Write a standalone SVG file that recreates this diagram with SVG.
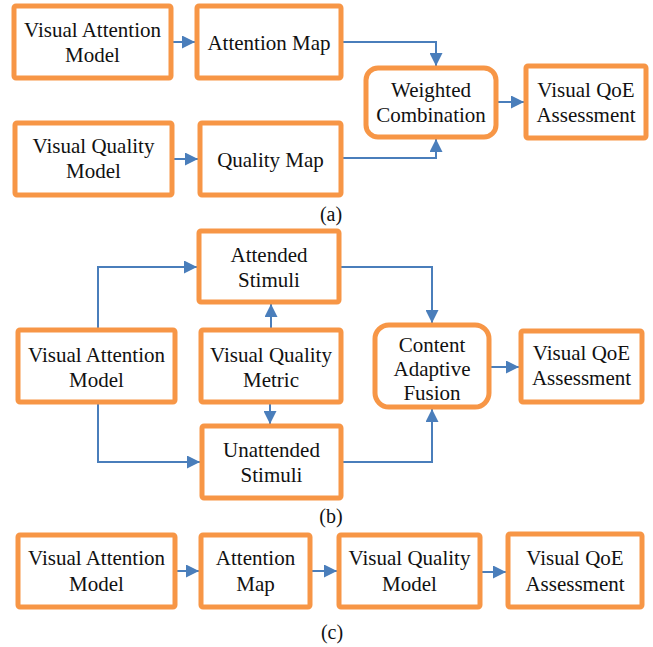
<svg xmlns="http://www.w3.org/2000/svg" width="653" height="647" viewBox="0 0 653 647">
<defs>
<marker id="ah" markerUnits="userSpaceOnUse" markerWidth="13" markerHeight="13" viewBox="0 0 13 13" refX="13" refY="6.5" orient="auto">
<path d="M0,0 L13,6.5 L0,13 Z" fill="#4A7EBB"/>
</marker>
<style>
.box{fill:#fff;stroke:#F79646;stroke-width:5}
.t{font-family:"Liberation Serif","DejaVu Serif",serif;font-size:21px;fill:#111;text-anchor:middle}
.lbl{font-family:"Liberation Serif","DejaVu Serif",serif;font-size:20px;fill:#111;text-anchor:middle}
.c{fill:none;stroke:#4A7EBB;stroke-width:2;marker-end:url(#ah)}
</style>
</defs>
<rect width="653" height="647" fill="#fff"/>
<g id="connectors">
<path class="c" d="M173,42 H195"/>
<path class="c" d="M343,42 H436 V66"/>
<path class="c" d="M174,159 H198"/>
<path class="c" d="M343,158 H436 V139"/>
<path class="c" d="M498,102 H524"/>
<path class="c" d="M98,328 V267 H197"/>
<path class="c" d="M98,404 V462 H200"/>
<path class="c" d="M271,328 V304"/>
<path class="c" d="M270,404 V424"/>
<path class="c" d="M341,267 H432 V323"/>
<path class="c" d="M343,462 H432 V409"/>
<path class="c" d="M491,367 H519"/>
<path class="c" d="M177,571 H199"/>
<path class="c" d="M312,571 H337"/>
<path class="c" d="M482,572 H506"/>
</g>
<g id="a-vam"><rect class="box" x="14" y="6" width="157" height="72" rx="2"/><text class="t" x="92.5" y="37">Visual Attention</text><text class="t" x="92.5" y="62">Model</text></g>
<g id="a-am"><rect class="box" x="197" y="6" width="144" height="72" rx="2"/><text class="t" x="269" y="50">Attention Map</text></g>
<g id="a-vqm"><rect class="box" x="15" y="123" width="157" height="72" rx="2"/><text class="t" x="93.5" y="153">Visual Quality</text><text class="t" x="93.5" y="178">Model</text></g>
<g id="a-qm"><rect class="box" x="200" y="123" width="141" height="72" rx="2"/><text class="t" x="270.5" y="167">Quality Map</text></g>
<g id="a-wc"><rect class="box" x="366" y="68" width="130" height="69" rx="12"/><text class="t" x="431" y="97">Weighted</text><text class="t" x="431" y="122">Combination</text></g>
<g id="a-qoe"><rect class="box" x="526" y="66" width="120" height="72" rx="2"/><text class="t" x="586" y="97">Visual QoE</text><text class="t" x="586" y="122">Assessment</text></g>
<text class="lbl" x="331" y="221">(a)</text>
<g id="b-as"><rect class="box" x="199" y="231" width="140" height="71" rx="2"/><text class="t" x="269" y="262">Attended</text><text class="t" x="269" y="287">Stimuli</text></g>
<g id="b-vam"><rect class="box" x="18" y="330" width="157" height="72" rx="2"/><text class="t" x="96.5" y="362">Visual Attention</text><text class="t" x="96.5" y="387">Model</text></g>
<g id="b-vqm"><rect class="box" x="201" y="330" width="140" height="72" rx="2"/><text class="t" x="271" y="362">Visual Quality</text><text class="t" x="271" y="387">Metric</text></g>
<g id="b-us"><rect class="box" x="202" y="426" width="139" height="72" rx="2"/><text class="t" x="271.5" y="457">Unattended</text><text class="t" x="271.5" y="482">Stimuli</text></g>
<g id="b-caf"><rect class="box" x="375" y="325" width="114" height="82" rx="14"/><text class="t" x="432" y="352">Content</text><text class="t" x="432" y="376">Adaptive</text><text class="t" x="432" y="400">Fusion</text></g>
<g id="b-qoe"><rect class="box" x="521" y="331" width="121" height="71" rx="2"/><text class="t" x="581.5" y="360">Visual QoE</text><text class="t" x="581.5" y="385">Assessment</text></g>
<text class="lbl" x="331" y="523">(b)</text>
<g id="c-vam"><rect class="box" x="18" y="535" width="157" height="72" rx="2"/><text class="t" x="96.5" y="565">Visual Attention</text><text class="t" x="96.5" y="591">Model</text></g>
<g id="c-am"><rect class="box" x="201" y="535" width="109" height="72" rx="2"/><text class="t" x="255.5" y="565">Attention</text><text class="t" x="255.5" y="591">Map</text></g>
<g id="c-vqm"><rect class="box" x="339" y="535" width="141" height="72" rx="2"/><text class="t" x="409.5" y="565">Visual Quality</text><text class="t" x="409.5" y="591">Model</text></g>
<g id="c-qoe"><rect class="box" x="508" y="534" width="134" height="73" rx="2"/><text class="t" x="575" y="565">Visual QoE</text><text class="t" x="575" y="591">Assessment</text></g>
<text class="lbl" x="332" y="639">(c)</text>
</svg>
